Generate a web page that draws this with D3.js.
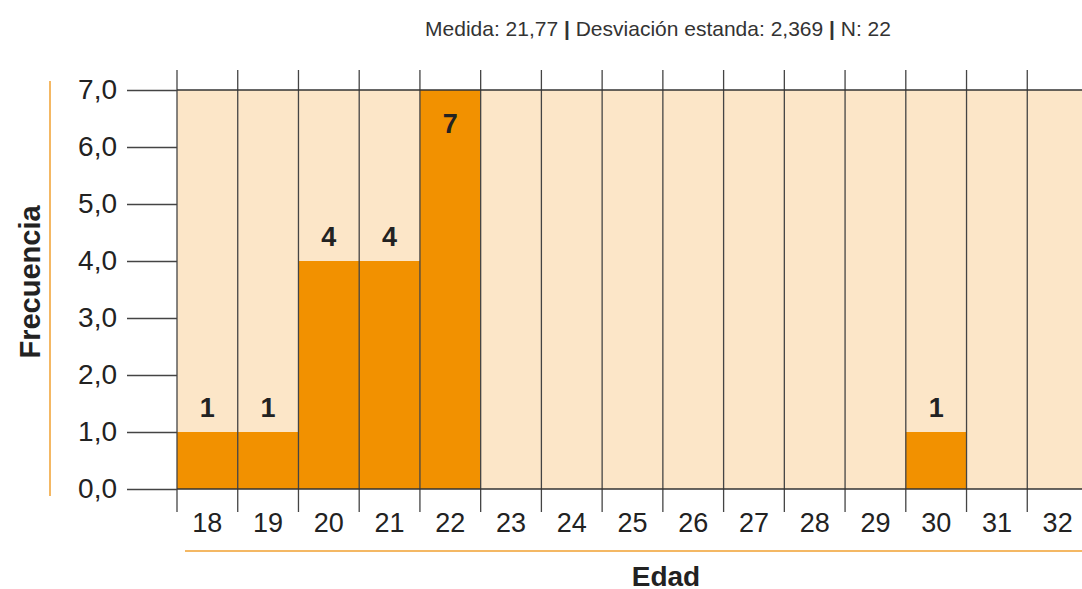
<!DOCTYPE html>
<html>
<head>
<meta charset="utf-8">
<script src="https://cdn.jsdelivr.net/npm/d3@7"></script>
<style>
  body { margin: 0; background: #fff; }
  svg { display: block; font-family: Arial, "Liberation Sans", sans-serif; }
</style>
</head>
<body>
<div id="chart"></div>
<script>
// data
var ages = [18, 19, 20, 21, 22, 23, 24, 25, 26, 27, 28, 29, 30, 31, 32];
var freq = [1, 1, 4, 4, 7, 0, 0, 0, 0, 0, 0, 0, 1, 0, 0];
var yTicks = [0, 1, 2, 3, 4, 5, 6, 7];
var stats = ["Medida: 21,77", "Desviación estanda: 2,369", "N: 22"];

var width = 1082, height = 589;
var svg = d3.select('#chart').append('svg').attr('width', width).attr('height', height);

var x = d3.scaleLinear().domain([18, 33]).range([177, 1088]);
var y = d3.scaleLinear().domain([0, 7]).range([489, 90]);
var bw = x(19) - x(18);

// plot background
svg.append('rect').attr('x', x(18)).attr('y', y(7))
  .attr('width', x(33) - x(18)).attr('height', y(0) - y(7))
  .attr('fill', '#fce6c8');

// bars
svg.selectAll('.bar').data(ages).enter().append('rect')
  .attr('class', 'bar')
  .attr('x', function(d){ return x(d); })
  .attr('y', function(d, i){ return y(freq[i]); })
  .attr('width', bw)
  .attr('height', function(d, i){ return y(0) - y(freq[i]); })
  .attr('fill', '#f29100');

// vertical bin lines
var edges = ages.concat([33]);
svg.selectAll('.vline').data(edges).enter().append('line')
  .attr('x1', function(d){ return x(d); }).attr('x2', function(d){ return x(d); })
  .attr('y1', 70).attr('y2', 512)
  .attr('stroke', '#444').attr('stroke-width', 1.3);

// top and bottom lines
svg.append('line').attr('x1', x(18)).attr('x2', width).attr('y1', y(7)).attr('y2', y(7))
  .attr('stroke', '#333').attr('stroke-width', 1.5);
svg.append('line').attr('x1', x(18)).attr('x2', width).attr('y1', y(0)).attr('y2', y(0))
  .attr('stroke', '#333').attr('stroke-width', 1.5);

// y axis
var yAxis = d3.axisLeft(y).tickValues(yTicks).tickSize(50).tickPadding(10)
  .tickFormat(function(d){ return d3.format('.1f')(d).replace('.', ','); });
var gy = svg.append('g').attr('transform', 'translate(' + x(18) + ',0)').call(yAxis);
gy.select('.domain').remove();
gy.selectAll('.tick line').attr('stroke', '#444').attr('stroke-width', 1.3);
gy.selectAll('.tick text').attr('fill', '#222').style('font-size', '28px');

// x axis labels
svg.selectAll('.xlab').data(ages).enter().append('text')
  .attr('x', function(d){ return x(d) + bw / 2; })
  .attr('y', 532)
  .attr('text-anchor', 'middle')
  .attr('fill', '#222')
  .style('font-size', '27px')
  .text(function(d){ return d; });

// value labels
svg.selectAll('.val').data(ages.filter(function(d, i){ return freq[i] > 0; })).enter().append('text')
  .attr('x', function(d){ return x(d) + bw / 2; })
  .attr('y', function(d){
    var v = freq[ages.indexOf(d)];
    return v >= 7 ? y(v) + 43 : y(v) - 15;
  })
  .attr('text-anchor', 'middle')
  .attr('fill', '#222')
  .style('font-size', '27px').style('font-weight', 'bold')
  .text(function(d){ return freq[ages.indexOf(d)]; });

// orange accent lines
svg.append('line').attr('x1', 50).attr('x2', 50).attr('y1', 81).attr('y2', 496)
  .attr('stroke', '#f0a030').attr('stroke-width', 1.5);
svg.append('line').attr('x1', 185).attr('x2', width).attr('y1', 551).attr('y2', 551)
  .attr('stroke', '#f0a030').attr('stroke-width', 1.5);

// axis titles
svg.append('text').attr('transform', 'translate(40,282) rotate(-90)')
  .attr('text-anchor', 'middle').attr('fill', '#222')
  .style('font-size', '29px').style('font-weight', 'bold')
  .text('Frecuencia');
svg.append('text').attr('x', 666).attr('y', 586)
  .attr('text-anchor', 'middle').attr('fill', '#222')
  .style('font-size', '28px').style('font-weight', 'bold')
  .text('Edad');

// stats line
var st = svg.append('text').attr('x', 658).attr('y', 36)
  .attr('text-anchor', 'middle').attr('fill', '#333').style('font-size', '21px');
stats.forEach(function(s, i){
  if (i > 0) st.append('tspan').style('font-weight', 'bold').text(' | ');
  st.append('tspan').text(s);
});
</script>
</body>
</html>
